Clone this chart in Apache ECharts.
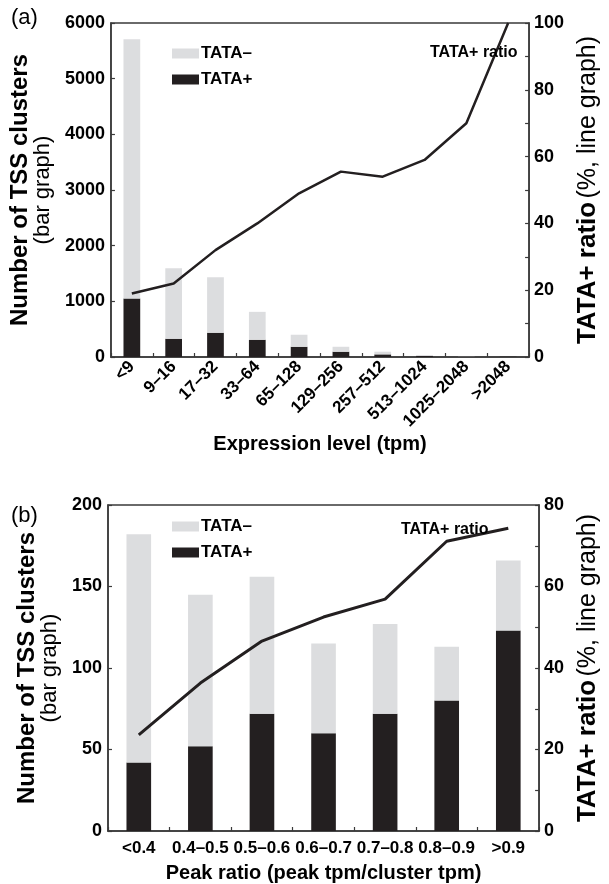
<!DOCTYPE html>
<html>
<head>
<meta charset="utf-8">
<script src="https://cdn.jsdelivr.net/npm/echarts@6/dist/echarts.min.js"></script>
<style>
html,body{margin:0;padding:0;background:#fff;}
#c{width:609px;height:884px;}
</style>
</head>
<body>
<div id="c"></div>
<script>
// Panel (a): expression level
const catsA = ['<9','9–16','17–32','33–64','65–128','129–256','257–512','513–1024','1025–2048','>2048'];
const tataPlusA  = [1051, 328, 436, 310, 184, 95, 47, 20, 8, 5];
const tataMinusA = [4656, 1266, 997, 501, 216, 89, 48, 14, 4, 0];
const ratioA     = [19, 22, 32, 40, 49, 55.5, 54, 59, 70, 100];
// Panel (b): peak ratio
const catsB = ['<0.4','0.4–0.5','0.5–0.6','0.6–0.7','0.7–0.8','0.8–0.9','>0.9'];
const tataPlusB  = [42, 52, 72, 60, 72, 80, 123];
const tataMinusB = [140, 93, 84, 55, 55, 33, 43];
const ratioB     = [23.6, 36.3, 46.6, 52.5, 56.9, 71.1, 74.3];

const FONT = "'Liberation Sans', Arial, Helvetica, sans-serif";
const DARK = '#231f20';
const GRAY = '#dcdddf';
const AXC = '#3a3a3a';
const plain = v => String(v);

function yLeft(gi, max, interval, gap) {
  return {
    type: 'value', gridIndex: gi, position: 'left', min: 0, max: max, interval: interval,
    splitLine: {show: false},
    axisLine: {show: true, lineStyle: {color: AXC, width: 1.5}},
    axisTick: {show: true, inside: true, length: 4, lineStyle: {color: AXC, width: 1.2}},
    axisLabel: {color: '#000', fontFamily: FONT, fontWeight: 'bold', fontSize: 18, margin: 6, formatter: plain},
    name: '{b|Number of TSS clusters}\n{n|(bar graph)}',
    nameLocation: 'middle', nameRotate: 90, nameGap: gap,
    nameTextStyle: {
      align: 'center',
      rich: {
        b: {fontFamily: FONT, fontWeight: 'bold', fontSize: 24, color: '#000', lineHeight: 24, align: 'center'},
        n: {fontFamily: FONT, fontWeight: 'normal', fontSize: 22, color: '#000', lineHeight: 22, align: 'center'}
      }
    }
  };
}
function yRight(gi, max, gap) {
  return {
    type: 'value', gridIndex: gi, position: 'right', min: 0, max: max, interval: 20,
    splitLine: {show: false},
    axisLine: {show: true, lineStyle: {color: AXC, width: 1.5}},
    axisTick: {show: true, inside: true, length: 4, lineStyle: {color: AXC, width: 1.2}},
    minorTick: {show: true, splitNumber: 2, length: 4, lineStyle: {color: AXC, width: 1.2}},
    axisLabel: {color: '#000', fontFamily: FONT, fontWeight: 'bold', fontSize: 18, margin: 5, formatter: plain},
    name: '{b|TATA+ ratio} {n|(%, line graph)}',
    nameLocation: 'middle', nameRotate: 90, nameGap: gap,
    nameTextStyle: {
      rich: {
        b: {fontFamily: FONT, fontWeight: 'bold', fontSize: 26, color: '#000'},
        n: {fontFamily: FONT, fontWeight: 'normal', fontSize: 25, color: '#000'}
      }
    }
  };
}
function xCat(gi, cats, rotate, name, gap, margin, fs) {
  return {
    type: 'category', gridIndex: gi, data: cats,
    axisLine: {show: true, lineStyle: {color: AXC, width: 1.5}},
    axisTick: {show: true, inside: true, length: 4, lineStyle: {color: AXC, width: 1.2}},
    axisLabel: {interval: 0, rotate: rotate, color: '#000', fontFamily: FONT, fontWeight: 'bold', fontSize: fs, margin: margin},
    name: name, nameLocation: 'middle', nameGap: gap,
    nameTextStyle: {color: '#000', fontFamily: FONT, fontWeight: 'bold', fontSize: 20}
  };
}

const chart = echarts.init(document.getElementById('c'), null, {renderer: 'canvas'});
chart.setOption({
  backgroundColor: '#fff',
  animation: false,
  title: [
    {text: '(a)', left: 6, top: 2, textStyle: {fontFamily: FONT, fontWeight: 'normal', fontSize: 22, color: '#000'}},
    {text: '(b)', left: 6, top: 500, textStyle: {fontFamily: FONT, fontWeight: 'normal', fontSize: 22, color: '#000'}},
    {text: 'TATA+ ratio', left: 425, top: 40, textStyle: {fontFamily: FONT, fontWeight: 'bold', fontSize: 16, color: '#000'}},
    {text: 'TATA+ ratio', left: 396, top: 517, textStyle: {fontFamily: FONT, fontWeight: 'bold', fontSize: 16, color: '#000'}}
  ],
  legend: [
    {orient: 'vertical', left: 167, top: 40, itemWidth: 27, itemHeight: 10, itemGap: 9,
     data: [{name: 'TATA–', icon: 'rect'}, {name: 'TATA+', icon: 'rect'}],
     textStyle: {fontFamily: FONT, fontWeight: 'bold', fontSize: 17, color: '#000', padding: [0,0,0,-3]}},
    {orient: 'vertical', left: 167, top: 513, itemWidth: 27, itemHeight: 10, itemGap: 9,
     data: [{name: 'TATA–', icon: 'rect'}, {name: 'TATA+', icon: 'rect'}],
     textStyle: {fontFamily: FONT, fontWeight: 'bold', fontSize: 17, color: '#000', padding: [0,0,0,-3]}}
  ],
  grid: [
    {left: 108, right: 55, top: 23, height: 334, show: true, borderColor: AXC, borderWidth: 1.5, containLabel: false},
    {left: 108, right: 52, top: 505, height: 328, show: true, borderColor: AXC, borderWidth: 1.5, containLabel: false}
  ],
  xAxis: [
    xCat(0, catsA, 45, 'Expression level (tpm)', 77, 7, 17),
    xCat(1, catsB, 0, 'Peak ratio (peak tpm/cluster tpm)', 32, 9, 17)
  ],
  yAxis: [
    yLeft(0, 6000, 1000, 46),
    yRight(0, 100, 33),
    yLeft(1, 200, 50, 46),
    yRight(1, 80, 33)
  ],
  series: [
    {name: 'TATA+', type: 'bar', xAxisIndex: 0, yAxisIndex: 0, stack: 'a', data: tataPlusA, barWidth: '40%', itemStyle: {color: DARK}},
    {name: 'TATA–', type: 'bar', xAxisIndex: 0, yAxisIndex: 0, stack: 'a', data: tataMinusA, barWidth: '40%', itemStyle: {color: GRAY}},
    {name: 'TATA+ ratio', type: 'line', xAxisIndex: 0, yAxisIndex: 1, data: ratioA, symbol: 'none', lineStyle: {color: DARK, width: 2.5}, itemStyle: {color: DARK}},
    {name: 'TATA+', type: 'bar', xAxisIndex: 1, yAxisIndex: 2, stack: 'b', data: tataPlusB, barWidth: '40%', itemStyle: {color: DARK}},
    {name: 'TATA–', type: 'bar', xAxisIndex: 1, yAxisIndex: 2, stack: 'b', data: tataMinusB, barWidth: '40%', itemStyle: {color: GRAY}},
    {name: 'TATA+ ratio', type: 'line', xAxisIndex: 1, yAxisIndex: 3, data: ratioB, symbol: 'none', lineStyle: {color: DARK, width: 3}, itemStyle: {color: DARK}}
  ]
});
</script>
</body>
</html>
